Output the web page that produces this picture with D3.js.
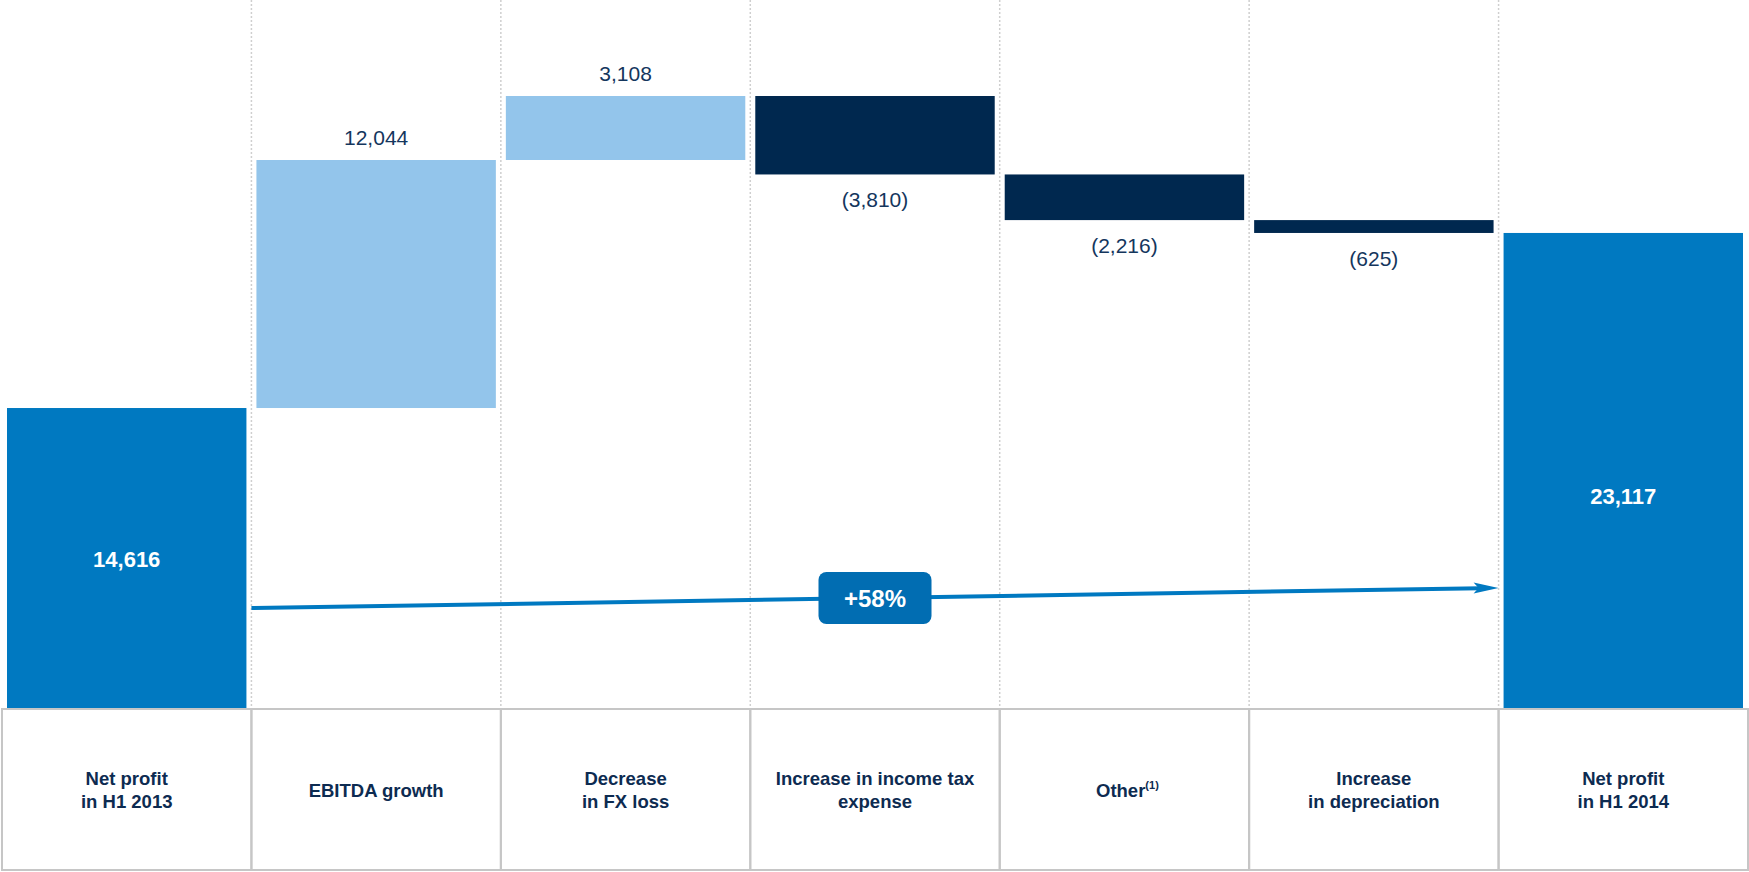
<!DOCTYPE html>
<html>
<head>
<meta charset="utf-8">
<script src="https://cdn.jsdelivr.net/npm/d3@7"></script>
<style>
  html, body { margin: 0; padding: 0; background: #fff; }
  svg { display: block; font-family: "Liberation Sans", Arial, sans-serif; }
</style>
</head>
<body>
<svg id="chart" width="1749" height="872"></svg>
<script>
// Data
const categories = [
    ['Net profit', 'in H1 2013'],
    ['EBITDA growth'],
    ['Decrease', 'in FX loss'],
    ['Increase in income tax', 'expense'],
    ['Other'],
    ['Increase', 'in depreciation'],
    ['Net profit', 'in H1 2014']
];
const footnotes = ['', '', '', '', '(1)', '', ''];
const values = [14616, 12044, 3108, -3810, -2216, -625, 23117];
const isTotal = [true, false, false, false, false, false, true];
const growthLabel = '+58%';
// arrow runs from the end of the first bar to the start of the last one
const arrowValues = [4900, 5880];

// Layout
const W = 1749, H = 872;
const plotBottom = 709;
const tableBottom = 870;
const svg = d3.select('#chart');

const x = d3.scaleBand()
    .domain(d3.range(categories.length))
    .range([2, W - 1])
    .padding(0);

const y = d3.scaleLinear()
    .domain([0, 34430])
    .range([plotBottom, 0]);

const inset = 5;

// Build waterfall steps
let running = 0;
const steps = values.map((v, i) => {
    let start, end;
    if (isTotal[i]) { start = 0; end = v; running = v; }
    else { start = running; end = running + v; running = end; }
    return { i, v, start, end, total: isTotal[i] };
});

const colour = d => d.total ? '#0079c1' : (d.v >= 0 ? '#93c5eb' : '#00284f');

// Dotted column separators
svg.append('g')
    .selectAll('line')
    .data(d3.range(1, categories.length))
    .enter()
    .append('line')
    .attr('x1', i => x(i))
    .attr('x2', i => x(i))
    .attr('y1', 0)
    .attr('y2', plotBottom)
    .attr('stroke', '#cfcfcf')
    .attr('stroke-width', 1.5)
    .attr('stroke-dasharray', '2,2');

// Bars
svg.append('g')
    .selectAll('rect')
    .data(steps)
    .enter()
    .append('rect')
    .attr('x', d => x(d.i) + inset)
    .attr('width', x.bandwidth() - 2 * inset)
    .attr('y', d => y(Math.max(d.start, d.end)))
    .attr('height', d => Math.abs(y(d.start) - y(d.end)))
    .attr('fill', colour);

// Value labels
const fmt = d3.format(',');
const labels = svg.append('g');

steps.filter(d => !d.total).forEach(d => {
    const top = y(Math.max(d.start, d.end));
    const bottom = y(Math.min(d.start, d.end));
    labels.append('text')
        .attr('x', x(d.i) + x.bandwidth() / 2)
        .attr('y', d.v >= 0 ? top - 15 : bottom + 33)
        .attr('text-anchor', 'middle')
        .style('font-size', '21px')
        .style('fill', '#14365d')
        .text(d.v >= 0 ? fmt(d.v) : `(${fmt(-d.v)})`);
});

steps.filter(d => d.total).forEach((d, k) => {
    const frac = k === 0 ? 0.5 : 0.447;
    labels.append('text')
        .attr('x', x(d.i) + x.bandwidth() / 2)
        .attr('y', y(d.v * frac) + 8)
        .attr('text-anchor', 'middle')
        .style('font-size', '22px')
        .style('font-weight', 'bold')
        .style('fill', '#fff')
        .text(fmt(d.v));
});

// Growth arrow
const ax1 = x(1), ax2 = x(categories.length - 1);
const ay1 = y(arrowValues[0]), ay2 = y(arrowValues[1]);
svg.append('line')
    .attr('x1', ax1).attr('y1', ay1)
    .attr('x2', ax2 - 18).attr('y2', ay2 + (ay1 - ay2) * 18 / (ax2 - ax1))
    .attr('stroke', '#0079c1')
    .attr('stroke-width', 4);

svg.append('path')
    .attr('d', `M${ax2},${ay2} L${ax2 - 25},${ay2 - 5.5} L${ax2 - 20},${ay2} L${ax2 - 25},${ay2 + 5.5} Z`)
    .attr('fill', '#0079c1');

// Badge
const bi = 3;
const bx = x(bi) + x.bandwidth() / 2;
const by = ay1 + (ay2 - ay1) * (bx - ax1) / (ax2 - ax1);
svg.append('rect')
    .attr('x', bx - 56.5)
    .attr('y', by - 26)
    .attr('width', 113)
    .attr('height', 52)
    .attr('rx', 8)
    .attr('fill', '#016db2');
svg.append('text')
    .attr('x', bx)
    .attr('y', by + 9)
    .attr('text-anchor', 'middle')
    .style('font-size', '24px')
    .style('font-weight', 'bold')
    .style('fill', '#fff')
    .text(growthLabel);

// Category table
const table = svg.append('g');
table.selectAll('rect')
    .data(d3.range(categories.length))
    .enter()
    .append('rect')
    .attr('x', i => x(i))
    .attr('y', plotBottom)
    .attr('width', x.bandwidth())
    .attr('height', tableBottom - plotBottom)
    .attr('fill', 'none')
    .attr('stroke', '#c6c6c6')
    .attr('stroke-width', 2);

const cellMid = (plotBottom + tableBottom) / 2;
categories.forEach((lines, i) => {
    const t = table.append('text')
        .attr('text-anchor', 'middle')
        .style('font-size', '18.5px')
        .style('font-weight', 'bold')
        .style('fill', '#0d2b51');
    lines.forEach((line, j) => {
        t.append('tspan')
            .attr('x', x(i) + x.bandwidth() / 2)
            .attr('y', cellMid + 7 + (j - (lines.length - 1) / 2) * 23)
            .text(line);
        if (footnotes[i] && j === lines.length - 1) {
            t.append('tspan')
                .attr('dy', -8)
                .style('font-size', '11px')
                .text(footnotes[i]);
        }
    });
    if (footnotes[i]) t.attr('transform', 'translate(3,0)');
});
</script>
</body>
</html>
